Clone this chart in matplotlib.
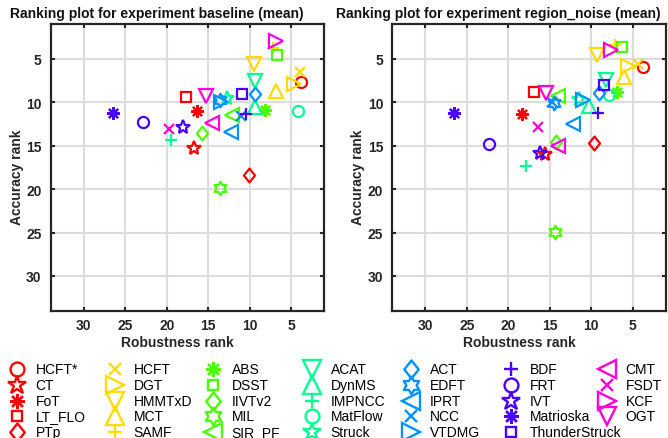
import matplotlib
matplotlib.use('Agg')

import numpy as np
import matplotlib.pyplot as plt
from matplotlib.path import Path
from matplotlib.colors import hsv_to_rgb

# trackers, listed column by column as in the legend
trackers = ['HCFT*', 'CT', 'FoT', 'LT_FLO', 'PTp',
            'HCFT', 'DGT', 'HMMTxD', 'MCT', 'SAMF',
            'ABS', 'DSST', 'IIVTv2', 'MIL', 'SIR_PF',
            'ACAT', 'DynMS', 'IMPNCC', 'MatFlow', 'Struck',
            'ACT', 'EDFT', 'IPRT', 'NCC', 'VTDMG',
            'BDF', 'FRT', 'IVT', 'Matrioska', 'ThunderStruck',
            'CMT', 'FSDT', 'KCF', 'OGT']

shapes = ['o', 'p', '*', 's', 'd',
          'x', '>', 'v', '^', '+',
          '*', 's', 'd', 'h', '<',
          'v', '^', '+', 'o', 'p',
          'd', 'h', '<', 'x', '>',
          '+', 'o', 'p', '*', 's',
          '<', 'x', '>', 'v']

color_group = [0]*5 + [1]*5 + [2]*5 + [3]*5 + [4]*5 + [5]*5 + [6]*4

# experiment "baseline"
base_robust = [3.8, 16.7, 16.4, 17.7, 10.05,
               3.9, 4.7, 9.5, 6.8, 7.2,
               8.2, 6.7, 15.7, 13.6, 12.1,
               9.35, 9.4, 19.5, 4.2, 12.7,
               9.35, 13.6, 12.25, 11.0, 13.4,
               10.4, 22.9, 18.0, 26.5, 10.96,
               14.5, 19.7, 6.8, 15.3]
base_acc = [7.7, 15.3, 11.0, 9.4, 18.4,
            6.5, 7.9, 5.6, 8.7, 3.8,
            10.9, 4.6, 13.6, 19.9, 11.5,
            7.6, 10.6, 14.4, 11.0, 9.5,
            9.05, 9.7, 13.4, 11.6, 10.0,
            11.4, 12.3, 12.9, 11.2, 9.1,
            12.4, 13.1, 3.0, 9.3]

# experiment "region_noise"
noise_robust = [3.7, 15.6, 18.3, 16.9, 9.7,
                4.4, 5.5, 9.25, 6.0, 7.1,
                6.9, 6.3, 14.2, 14.4, 14.0,
                8.2, 10.3, 17.9, 7.9, 11.5,
                9.0, 14.5, 12.2, 14.7, 11.0,
                9.2, 22.3, 16.2, 26.6, 8.4,
                14.0, 16.4, 7.6, 15.4]
noise_acc = [5.95, 16.0, 11.4, 8.8, 14.7,
             5.6, 5.8, 4.6, 7.1, 3.4,
             8.8, 3.6, 14.6, 24.9, 9.3,
             7.4, 10.4, 17.3, 9.2, 9.6,
             8.9, 10.1, 12.5, 10.0, 9.8,
             11.3, 14.8, 15.9, 11.2, 8.0,
             15.0, 12.9, 4.0, 8.9]

ticks = [5, 10, 15, 20, 25, 30]

plt.rcParams['font.family'] = ['Liberation Sans', 'DejaVu Sans']

W, H = 668, 439
dark = '#262626'
colors = [hsv_to_rgb((k / 7.0, 1, 1)) for k in range(7)]

# hexagram and diamond like the MATLAB ones (last vertex closes the path)
ang = np.deg2rad(90 + 30*np.arange(13))
rad = np.where(np.arange(13) % 2 == 0, 1.0, 1/np.sqrt(3))
hexagram = Path(np.column_stack([rad*np.cos(ang), rad*np.sin(ang)]), closed=True)
diamond = Path([(0, 1), (0.8, 0), (0, -1), (-0.8, 0), (0, 1)], closed=True)

marker_of = {'o': 'o', 'p': '*', '*': (8, 2, 0), 's': 's', 'd': diamond,
             'x': 'x', '>': '>', 'v': 'v', '^': '^', '<': '<', '+': '+',
             'h': hexagram}
size_of = {'o': 8, 'p': 10, '*': 9, 's': 6.8, 'd': 10,
           'x': 7.5, '>': 9.8, 'v': 9.8, '^': 9.8, '<': 9.8, '+': 8,
           'h': 9.8}
# legend markers come out a bit larger than in the plots
leg_scale = {'o': 1.25, 'p': 1.35, '*': 1.2, 's': 1.15, 'd': 1.3,
             'x': 1.2, '>': 1.3, 'v': 1.3, '^': 1.3, '<': 1.3, '+': 1.3,
             'h': 1.3}


def px_box(l, t, r, b):
    return [l/W, 1 - b/H, (r - l)/W, (b - t)/H]


fig = plt.figure(figsize=(W/100, H/100), dpi=100)

panels = [
    (px_box(50.7, 25, 324.3, 311.7), base_robust, base_acc,
     'Ranking plot for experiment baseline (mean)'),
    (px_box(392.3, 25, 665.7, 311.7), noise_robust, noise_acc,
     'Ranking plot for experiment region_noise (mean)'),
]

for box, rob, acc, title in panels:
    ax = fig.add_axes(box)
    for i in range(len(trackers)):
        s = shapes[i]
        ax.plot(rob[i], acc[i], linestyle='none', marker=marker_of[s],
                ms=size_of[s], mec=colors[color_group[i]], mfc='none',
                mew=1.6, zorder=3)
    ax.set_xlim(34, 1)
    ax.set_ylim(34, 1)
    ax.set_xticks(ticks)
    ax.set_yticks(ticks)
    ax.grid(True, color='#dcdcdc', linewidth=1.5, zorder=0)
    ax.set_axisbelow(True)
    for sp in ax.spines.values():
        sp.set_linewidth(1.6)
        sp.set_color(dark)
    ax.tick_params(direction='in', length=3, width=1.5, color=dark,
                   top=True, right=True, labelsize=10, labelcolor=dark)
    ax.tick_params(axis='x', pad=5.5)
    ax.tick_params(axis='y', pad=6.5)
    for lab in ax.get_xticklabels() + ax.get_yticklabels():
        lab.set_fontweight('bold')

    l = box[0]*W
    fig.text((l - 31 + 274/2)/W, 1 - 14/H, title, ha='center', va='center',
             fontsize=10, fontweight='bold', color='#111111')
    fig.text((l + 127)/W, 1 - 343/H, 'Robustness rank', ha='center',
             va='center', fontsize=10, fontweight='bold', color=dark)
    fig.text((l - 34)/W, 1 - 177/H, 'Accuracy rank', ha='center',
             va='center', rotation=90, fontsize=10, fontweight='bold',
             color=dark)

# legend drawn by hand so the columns are evenly spaced
lax = fig.add_axes([0, 0, 1, 1])
lax.set_xlim(0, W)
lax.set_ylim(H, 0)
lax.axis('off')
col_x = [17, 115, 213, 312, 411, 511, 607]
row_y = [370, 386, 401.7, 417.3, 433.3]
for i, name in enumerate(trackers):
    c, r = divmod(i, 5)
    s = shapes[i]
    lax.plot(col_x[c], row_y[r], linestyle='none', marker=marker_of[s],
             ms=size_of[s]*leg_scale[s], mec=colors[color_group[i]],
             mfc='none', mew=1.7, clip_on=False)
    lax.text(col_x[c] + 18.5, row_y[r], name, ha='left', va='center',
             fontsize=10, color='black')

plt.savefig('out.png', dpi=100)
